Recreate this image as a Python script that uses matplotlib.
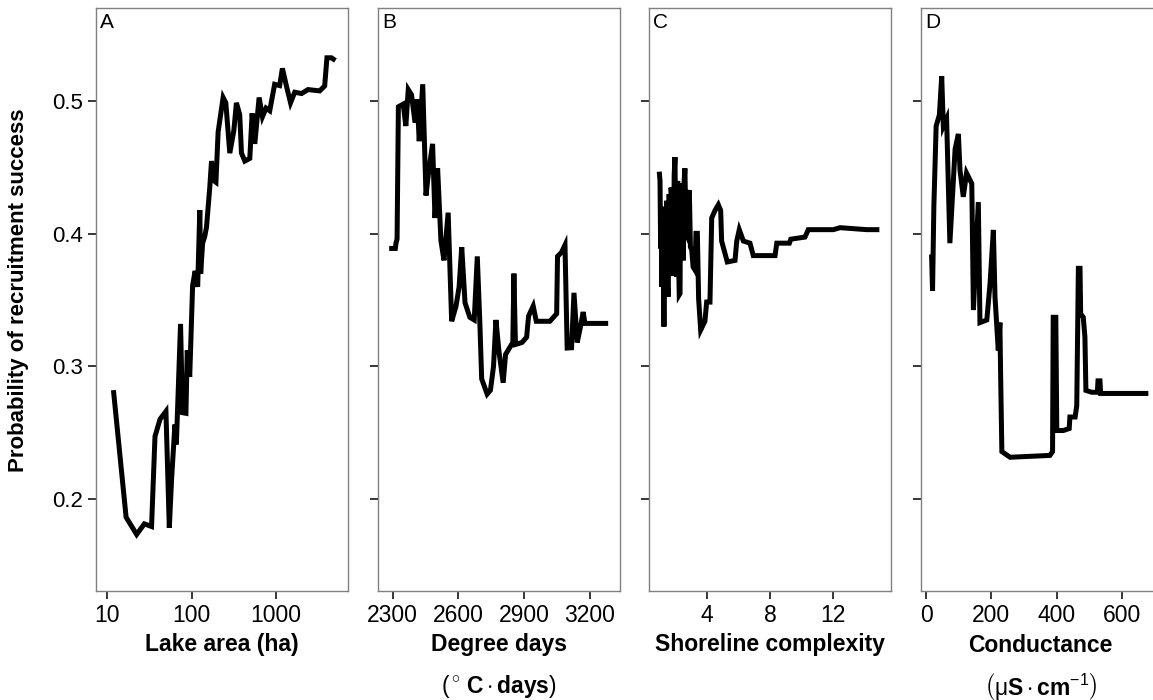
import matplotlib
matplotlib.use('Agg')
import matplotlib.pyplot as plt

# ---- data ----
area_x = [11.9, 16.8, 22.4, 27.6, 33.6, 36.9, 42.3, 49.7, 54.5, 58, 63.5, 66, 74, 78, 85.7, 88.8, 95,
          102.8, 110, 118, 125, 128, 135, 143, 150, 164, 172, 185, 194, 206, 236, 254, 283, 316, 339,
          371, 389, 426, 488, 520, 559, 629, 689, 760, 840, 960, 1100, 1186, 1320, 1480, 1660, 2000,
          2380, 3270, 3750, 3990, 4500, 5030]
area_y = [0.282, 0.186, 0.173, 0.181, 0.179, 0.247, 0.260, 0.266, 0.178, 0.215, 0.256, 0.241, 0.332,
          0.265, 0.2645, 0.312, 0.292, 0.361, 0.372, 0.36, 0.418, 0.37, 0.393, 0.398, 0.405, 0.435,
          0.455, 0.44, 0.439, 0.477, 0.503, 0.499, 0.461, 0.478, 0.499, 0.49, 0.461, 0.455, 0.457,
          0.491, 0.468, 0.503, 0.4885, 0.495, 0.493, 0.513, 0.512, 0.525, 0.512, 0.499, 0.507, 0.506,
          0.509, 0.508, 0.5117, 0.533, 0.533, 0.531]

dd_x = [2284, 2312, 2315, 2320, 2326, 2348, 2360, 2371, 2386, 2402, 2412, 2421, 2437, 2452, 2462,
        2482, 2493, 2505, 2520, 2534, 2553, 2569, 2589, 2603, 2615, 2630, 2652, 2672, 2686, 2698,
        2706, 2731, 2746, 2760, 2771, 2785, 2804, 2815, 2848, 2853, 2860, 2890, 2911, 2920, 2941,
        2955, 2972, 3017, 3048, 3052, 3070, 3086, 3096, 3116, 3127, 3142, 3158, 3169, 3177, 3283]
dd_y = [0.389, 0.389, 0.393, 0.396, 0.496, 0.498, 0.4815, 0.509, 0.505, 0.484, 0.5015, 0.470, 0.513,
        0.429, 0.444, 0.468, 0.412, 0.4495, 0.395, 0.380, 0.416, 0.334, 0.3455, 0.360, 0.390, 0.348,
        0.337, 0.335, 0.383, 0.331, 0.2905, 0.279, 0.282, 0.300, 0.335, 0.311, 0.2876, 0.309,
        0.318, 0.370, 0.3165, 0.318, 0.322, 0.338, 0.3455, 0.334, 0.334, 0.334, 0.3397, 0.383,
        0.386, 0.3916, 0.3138, 0.314, 0.3555, 0.318, 0.331, 0.341, 0.3324, 0.3324]

sc_x = [0.95, 1.00, 1.04, 1.08, 1.12, 1.18, 1.25, 1.31, 1.36, 1.42, 1.48, 1.52, 1.58, 1.64, 1.70,
        1.74, 1.80, 1.84, 1.90, 1.95, 2.00, 2.06, 2.12, 2.18, 2.22, 2.27, 2.31, 2.37, 2.43, 2.48,
        2.53, 2.58, 2.65, 2.73, 2.80, 2.86, 2.93, 3.01, 3.10, 3.22, 3.28, 3.37, 3.45, 3.58, 3.85,
        3.96, 4.17, 4.28, 4.49, 4.70, 4.85, 4.91, 5.27, 5.76, 5.87, 6.03, 6.29, 6.71, 6.92, 8.30,
        8.41, 9.21, 9.30, 10.2, 10.41, 12.0, 12.43, 14.12, 14.92]
sc_y = [0.447, 0.44, 0.389, 0.42, 0.36, 0.415, 0.33, 0.4205, 0.37, 0.425, 0.36, 0.3526, 0.43, 0.38,
        0.435, 0.4307, 0.37, 0.3686, 0.445, 0.458, 0.39, 0.3677, 0.44, 0.38, 0.354, 0.355, 0.438,
        0.433, 0.39, 0.38, 0.44, 0.4495, 0.40, 0.398, 0.43, 0.433, 0.39, 0.388, 0.375, 0.3727,
        0.4004, 0.4004, 0.351, 0.3274, 0.334, 0.3485, 0.3485, 0.412, 0.4177, 0.422, 0.4177, 0.3946,
        0.3788, 0.380, 0.3946, 0.4032, 0.3946, 0.393, 0.3836, 0.3836, 0.393, 0.393, 0.396, 0.3976,
        0.4032, 0.4032, 0.4047, 0.4032, 0.4032]

cond_x = [17, 20, 24, 31, 41, 48, 53, 63, 73, 89, 99, 104, 114, 124, 140, 145, 160, 165, 186, 196,
          206, 211, 221, 226, 228, 232, 257, 379, 387, 389, 397, 400, 420, 438, 440, 456, 461, 466,
          471, 473, 481, 486, 489, 507, 524, 526, 532, 534, 680]
cond_y = [0.3844, 0.357, 0.4205, 0.4813, 0.49, 0.519, 0.4813, 0.487, 0.393, 0.464, 0.4755, 0.448,
          0.428, 0.446, 0.438, 0.3425, 0.424, 0.333, 0.335, 0.363, 0.403, 0.3525, 0.312, 0.333,
          0.297, 0.2356, 0.2313, 0.2327, 0.2356, 0.337, 0.337, 0.2515, 0.2515, 0.253, 0.2617,
          0.2617, 0.2702, 0.374, 0.374, 0.3397, 0.337, 0.322, 0.2818, 0.2804, 0.2804, 0.289, 0.289,
          0.2795, 0.2795]

panel_letters = ['A', 'B', 'C', 'D']
x_titles = ['Lake area (ha)', 'Degree days', 'Shoreline complexity', 'Conductance']
x_units = [None, r'$\left(^\circ\,\mathbf{C}\cdot\mathbf{days}\right)$', None,
           r'$\left(\mu\mathbf{S}\cdot\mathbf{cm}^{-1}\right)$']
y_title = 'Probability of recruitment success'
y_ticks = [0.2, 0.3, 0.4, 0.5]

plt.rcParams['font.family'] = ['Liberation Sans', 'DejaVu Sans']
plt.rcParams['mathtext.fontset'] = 'custom'
plt.rcParams['mathtext.rm'] = 'Liberation Sans'
plt.rcParams['mathtext.it'] = 'Liberation Sans'
plt.rcParams['mathtext.bf'] = 'Liberation Sans:bold'

W, H = 1153, 700
fig = plt.figure(figsize=(W / 100, H / 100), dpi=100)

# panel boxes in pixels (left, width); D runs past the right edge like the reference
boxes = [(96, 252), (378, 242), (649.3, 241.4), (921, 239)]
top_px, bot_px = 8.4, 591
xlims = [(7.4, 7080), (2233, 3337), (0.32, 15.64), (-15.3, 715.6)]
xticks = [[10, 100, 1000], [2300, 2600, 2900, 3200], [4, 8, 12], [0, 200, 400, 600]]
series = [(area_x, area_y), (dd_x, dd_y), (sc_x, sc_y), (cond_x, cond_y)]

for i in range(4):
    l, w = boxes[i]
    ax = fig.add_axes([l / W, 1 - bot_px / H, w / W, (bot_px - top_px) / H])
    x, y = series[i]
    if i == 0:
        ax.set_xscale('log')
    ax.plot(x, y, color='black', lw=3.6, solid_joinstyle='miter', solid_capstyle='butt')
    ax.set_xlim(*xlims[i])
    ax.set_ylim(0.1303, 0.5703)
    ax.set_xticks(xticks[i])
    ax.set_xticklabels([str(t) for t in xticks[i]], fontsize=16.5)
    ax.minorticks_off()
    ax.set_yticks(y_ticks)
    if i == 0:
        ax.set_yticklabels([str(t) for t in y_ticks], fontsize=16)
    else:
        ax.set_yticklabels([])
    ax.tick_params(direction='out', length=5.5, width=1.1, color='black', pad=4)
    for s in ax.spines.values():
        s.set_color('#808080')
        s.set_linewidth(1)
    cx = (l + w / 2) / W
    fig.text(cx, 1 - 645 / H, x_titles[i], ha='center', va='center', fontsize=16.5,
             fontweight='bold')
    if x_units[i]:
        fig.text(cx, 1 - 686 / H, x_units[i], ha='center', va='center', fontsize=16.5)
    ax.text(0.016, 0.992, panel_letters[i], transform=ax.transAxes, ha='left', va='top',
            fontsize=15)

fig.text(19 / W, 1 - 290 / H, y_title, rotation=90, ha='center', va='center', fontsize=16,
         fontweight='bold')

fig.savefig('out.png', dpi=100)
